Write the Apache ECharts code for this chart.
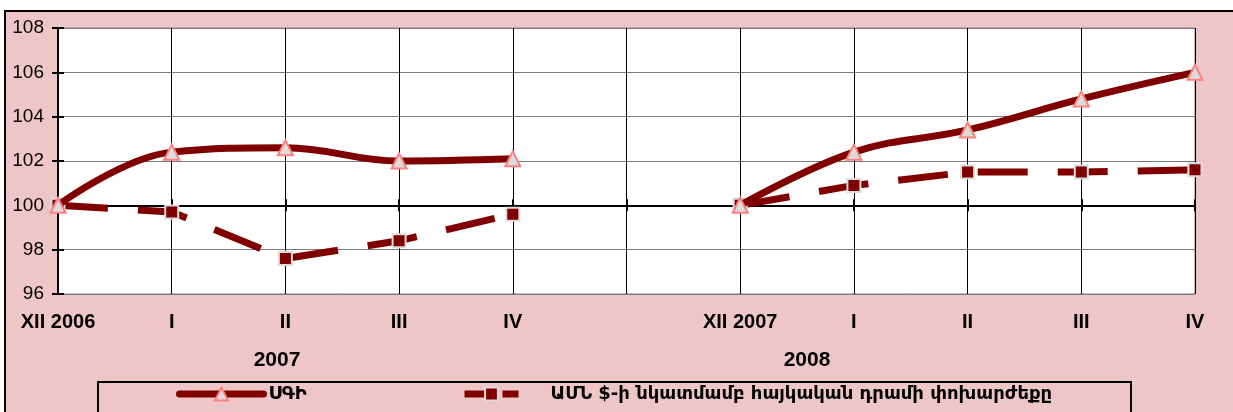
<!DOCTYPE html>
<html>
<head>
<meta charset="utf-8">
<script src="https://cdn.jsdelivr.net/npm/echarts@6/dist/echarts.min.js"></script>
<style>
  html, body { margin: 0; padding: 0; background: #fff; }
  #wrap { position: relative; width: 1233px; height: 412px; overflow: hidden; }
  #frame {
    position: absolute; left: 4px; top: 10px; width: 1300px; height: 500px;
    background: #efc6c8; border: 2px solid #000; box-sizing: border-box;
  }
  #chart { position: absolute; left: 0; top: 0; width: 1233px; height: 412px; }
</style>
</head>
<body>
<div id="wrap">
  <div id="frame"></div>
  <div id="chart"></div>
</div>
<script>
// months, XII of previous year = 100
const categories = ['XII 2006', 'I', 'II', 'III', 'IV', '', 'XII 2007', 'I', 'II', 'III', 'IV'];
const cpi = [100, 102.4, 102.6, 102.0, 102.1, null, 100, 102.4, 103.4, 104.8, 106.0];
const usdRate = [100, 99.7, 97.6, 98.4, 99.6, null, 100, 100.9, 101.5, 101.5, 101.6];
const seriesNames = ['ՍԳԻ', 'ԱՄՆ $-ի նկատմամբ հայկական դրամի փոխարժեքը'];
const yearLabels = ['2007', '2008'];

const darkRed = '#800000';
const latin = '"Liberation Sans", Arial, sans-serif';
const armenian = '"DejaVu Sans", sans-serif';

const chart = echarts.init(document.getElementById('chart'));

// extra x axes only draw the line at 100 with ticks crossing it
const crossAxis = (inside) => ({
  type: 'category',
  data: categories,
  boundaryGap: false,
  position: 'bottom',
  offset: -89,
  axisLine: { show: true, lineStyle: { color: '#000', width: 2 } },
  axisTick: { show: true, inside: inside, length: 6, lineStyle: { color: '#000', width: 2 } },
  axisLabel: { show: false },
  splitLine: { show: false }
});

const option = {
  backgroundColor: 'transparent',
  animation: false,
  grid: {
    left: 58, right: 38, top: 28, bottom: 118,
    show: true, backgroundColor: '#fff', borderColor: '#808080', borderWidth: 1
  },
  xAxis: [
    {
      type: 'category',
      data: categories,
      boundaryGap: false,
      axisLine: { show: false },
      axisTick: { show: false },
      axisLabel: { color: '#000', fontFamily: latin, fontWeight: 'bold', fontSize: 20, margin: 18, interval: 0 },
      splitLine: { show: true, lineStyle: { color: '#000', width: 1 } }
    },
    crossAxis(false),
    crossAxis(true)
  ],
  yAxis: [
    {
      type: 'value', min: 96, max: 108, interval: 2,
      axisLine: { show: true, lineStyle: { color: '#000', width: 2 } },
      axisTick: { show: true, length: 6, lineStyle: { color: '#000', width: 2 } },
      axisLabel: { color: '#000', fontFamily: latin, fontSize: 19, margin: 14 },
      splitLine: { show: true, lineStyle: { color: '#7a7a7a', width: 1 } }
    },
    {
      type: 'value', min: 96, max: 108, interval: 2, position: 'left',
      axisLine: { show: false },
      axisTick: { show: true, inside: true, length: 6, lineStyle: { color: '#000', width: 2 } },
      axisLabel: { show: false },
      splitLine: { show: false }
    }
  ],
  legend: [
    {
      data: [seriesNames[0]],
      left: 176, top: 385, padding: 0,
      itemWidth: 84, itemHeight: 16,
      lineStyle: { width: 7, cap: 'round' },
      textStyle: { color: '#000', fontFamily: armenian, fontWeight: 'bold', fontSize: 18, padding: [0, 0, 0, 0] }
    },
    {
      data: [seriesNames[1]],
      left: 461, top: 385, padding: 0,
      itemWidth: 54, itemHeight: 16,
      lineStyle: { width: 7, type: [30, 8] },
      textStyle: { color: '#000', fontFamily: armenian, fontWeight: 'bold', fontSize: 18, padding: [0, 0, 0, 27] }
    }
  ],
  graphic: [
    {
      type: 'rect', z: 10,
      shape: { x: 98, y: 382, width: 1033, height: 60 },
      style: { fill: 'none', stroke: '#000', lineWidth: 2 }
    },
    {
      type: 'text', x: 277, y: 360,
      style: { text: yearLabels[0], align: 'center', verticalAlign: 'middle', font: 'bold 21px ' + latin, fill: '#000' }
    },
    {
      type: 'text', x: 807, y: 360,
      style: { text: yearLabels[1], align: 'center', verticalAlign: 'middle', font: 'bold 21px ' + latin, fill: '#000' }
    }
  ],
  series: [
    {
      name: seriesNames[1],
      type: 'line',
      data: usdRate,
      z: 3,
      symbol: 'rect', symbolSize: 13,
      itemStyle: { color: darkRed, borderColor: '#dcdcdc', borderWidth: 2 },
      lineStyle: { color: darkRed, width: 7, type: [50, 30] }
    },
    {
      name: seriesNames[0],
      type: 'line',
      data: cpi,
      z: 4,
      smooth: 0.4,
      symbol: 'triangle', symbolSize: 15,
      itemStyle: { color: '#dcdcdc', borderColor: '#ff7f7f', borderWidth: 2 },
      lineStyle: { color: darkRed, width: 7, cap: 'round' }
    }
  ]
};

chart.setOption(option);

// put the crossing axes exactly at 100
const y100 = chart.convertToPixel({ yAxisIndex: 0 }, 100);
const off = y100 - (412 - 118);
chart.setOption({ xAxis: [{}, { offset: off }, { offset: off }] });
</script>
</body>
</html>
